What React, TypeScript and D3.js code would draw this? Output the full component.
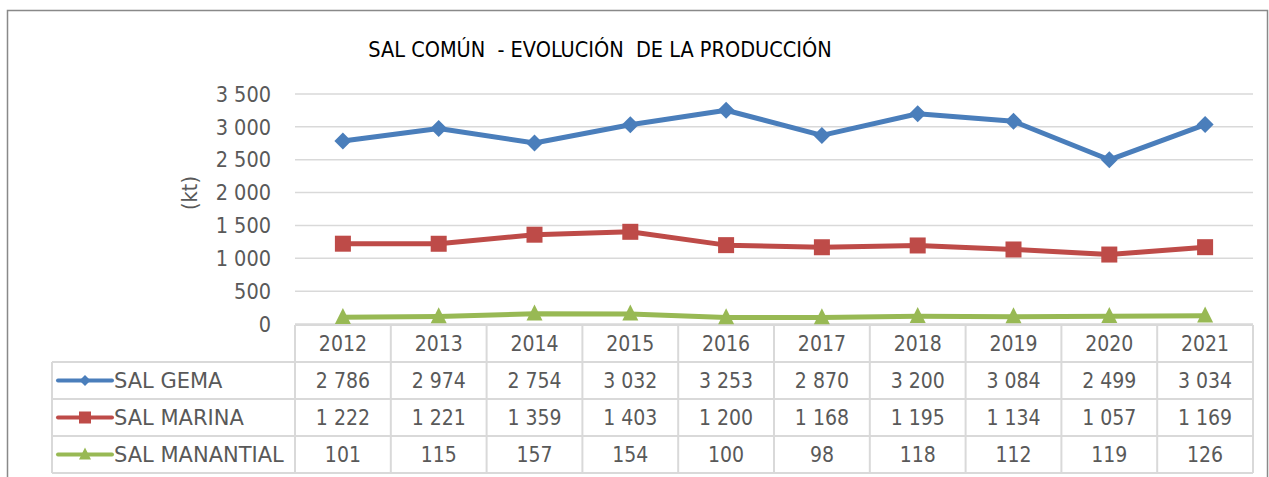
import React from "react";
import * as d3 from "d3";

const years = ["2012", "2013", "2014", "2015", "2016", "2017", "2018", "2019", "2020", "2021"];
const salGema = [2786, 2974, 2754, 3032, 3253, 2870, 3200, 3084, 2499, 3034];
const salMarina = [1222, 1221, 1359, 1403, 1200, 1168, 1195, 1134, 1057, 1169];
const salManantial = [101, 115, 157, 154, 100, 98, 118, 112, 119, 126];
const yTicks = [0, 500, 1000, 1500, 2000, 2500, 3000, 3500];
const seriesNames = ["SAL GEMA", "SAL MARINA", "SAL MANANTIAL"];
const title = "SAL COMÚN  - EVOLUCIÓN  DE LA PRODUCCIÓN";
const yLabel = "(kt)";

const W = 1269;
const H = 477;
const FONT = "'DejaVu Sans Condensed', 'DejaVu Sans', sans-serif";
const FONT_WIDE = "'DejaVu Sans', sans-serif";
const TXT = "#595959";
const GRID = "#D9D9D9";

const loc = d3.formatLocale({ decimal: ",", thousands: " ", grouping: [3], currency: ["", ""] });
const fmt = loc.format(",d");

export default function App() {
  const plotL = 295;
  const plotR = 1253;
  const yTop = 94;
  const yBot = 324;
  const legL = 52;
  const rowH = 37;
  const tableTop = 325;

  const x = d3.scaleBand<string>().domain(years).range([plotL, plotR]);
  const y = d3.scaleLinear().domain([0, 3500]).range([yBot, yTop]);
  const cx = (i: number) => (x(years[i]) as number) + x.bandwidth() / 2;

  const series = [
    { name: seriesNames[0], values: salGema, color: "#4A7EBB", marker: "diamond" },
    { name: seriesNames[1], values: salMarina, color: "#BE4B48", marker: "square" },
    { name: seriesNames[2], values: salManantial, color: "#98B954", marker: "triangle" },
  ];

  const line = d3
    .line<number>()
    .x((_, i) => cx(i))
    .y((d) => y(d));

  const marker = (type: string, px: number, py: number, s: number, color: string, key: string) => {
    if (type === "diamond") {
      const r = s / 2;
      return (
        <path key={key} d={`M${px},${py - r}L${px + r},${py}L${px},${py + r}L${px - r},${py}Z`} fill={color} />
      );
    }
    if (type === "square") {
      return <rect key={key} x={px - s / 2} y={py - s / 2} width={s} height={s} fill={color} />;
    }
    const h = s;
    return (
      <path
        key={key}
        d={`M${px},${py - h * 0.58}L${px + s * 0.5},${py + h * 0.42}L${px - s * 0.5},${py + h * 0.42}Z`}
        fill={color}
      />
    );
  };

  const bw = x.bandwidth();
  const nRows = 4;

  return (
    <svg width={W} height={H} style={{ position: "absolute", left: 0, top: 0, background: "#fff" }}>
      <rect x={0} y={0} width={W} height={H} fill="#fff" />
      <rect x={7.5} y={10.5} width={1260} height={500} fill="none" stroke="#898989" strokeWidth={1.5} />

      <text
        x={600}
        y={57}
        textAnchor="middle"
        fontFamily={FONT}
        fontSize={21.5}
        fill="#000"
        style={{ whiteSpace: "pre" }}
        xmlSpace="preserve"
      >
        {title}
      </text>

      {yTicks.map((t) => (
        <g key={t}>
          <line x1={plotL} x2={plotR} y1={y(t)} y2={y(t)} stroke={GRID} strokeWidth={1.5} />
          <text
            x={271}
            y={y(t)}
            dy="0.36em"
            textAnchor="end"
            fontFamily={FONT}
            fontSize={21.5}
            fill={TXT}
          >
            {fmt(t)}
          </text>
        </g>
      ))}

      <text
        transform={`translate(197,${(yTop + yBot) / 2 - 16}) rotate(-90)`}
        textAnchor="middle"
        fontFamily={FONT}
        fontSize={21.5}
        fill={TXT}
      >
        {yLabel}
      </text>

      {/* table grid */}
      <g stroke={GRID} strokeWidth={2} fill="none">
        {d3.range(nRows + 1).map((r) => (
          <line
            key={"h" + r}
            x1={r >= 1 ? legL : plotL}
            x2={plotR}
            y1={tableTop + r * rowH}
            y2={tableTop + r * rowH}
          />
        ))}
        {d3.range(years.length + 1).map((c) => (
          <line
            key={"v" + c}
            x1={plotL + c * bw}
            x2={plotL + c * bw}
            y1={tableTop}
            y2={tableTop + nRows * rowH}
          />
        ))}
        <line x1={legL} x2={legL} y1={tableTop + rowH} y2={tableTop + nRows * rowH} />
      </g>

      {years.map((yr, i) => (
        <text
          key={yr}
          x={cx(i)}
          y={tableTop + rowH / 2}
          dy="0.36em"
          textAnchor="middle"
          fontFamily={FONT}
          fontSize={21}
          fill={TXT}
        >
          {yr}
        </text>
      ))}

      {series.map((s, si) => {
        const ry = tableTop + (si + 1) * rowH + rowH / 2;
        return (
          <g key={s.name}>
            <line x1={58} x2={112} y1={ry} y2={ry} stroke={s.color} strokeWidth={4} strokeLinecap="round" />
            {marker(s.marker, 85, ry, s.marker === "diamond" ? 11 : 12, s.color, "lm")}
            <text x={114} y={ry} dy="0.36em" fontFamily={FONT_WIDE} fontSize={21} fill={TXT}>
              {s.name}
            </text>
            {s.values.map((v, i) => (
              <text
                key={i}
                x={cx(i)}
                y={ry}
                dy="0.36em"
                textAnchor="middle"
                fontFamily={FONT}
                fontSize={21}
                fill={TXT}
              >
                {fmt(v)}
              </text>
            ))}
          </g>
        );
      })}

      {series.map((s) => (
        <g key={"l" + s.name}>
          <path d={line(s.values) as string} fill="none" stroke={s.color} strokeWidth={5} strokeLinejoin="round" />
          {s.values.map((v, i) => marker(s.marker, cx(i), y(v), s.marker === "diamond" ? 17 : 16, s.color, "m" + i))}
        </g>
      ))}
    </svg>
  );
}
